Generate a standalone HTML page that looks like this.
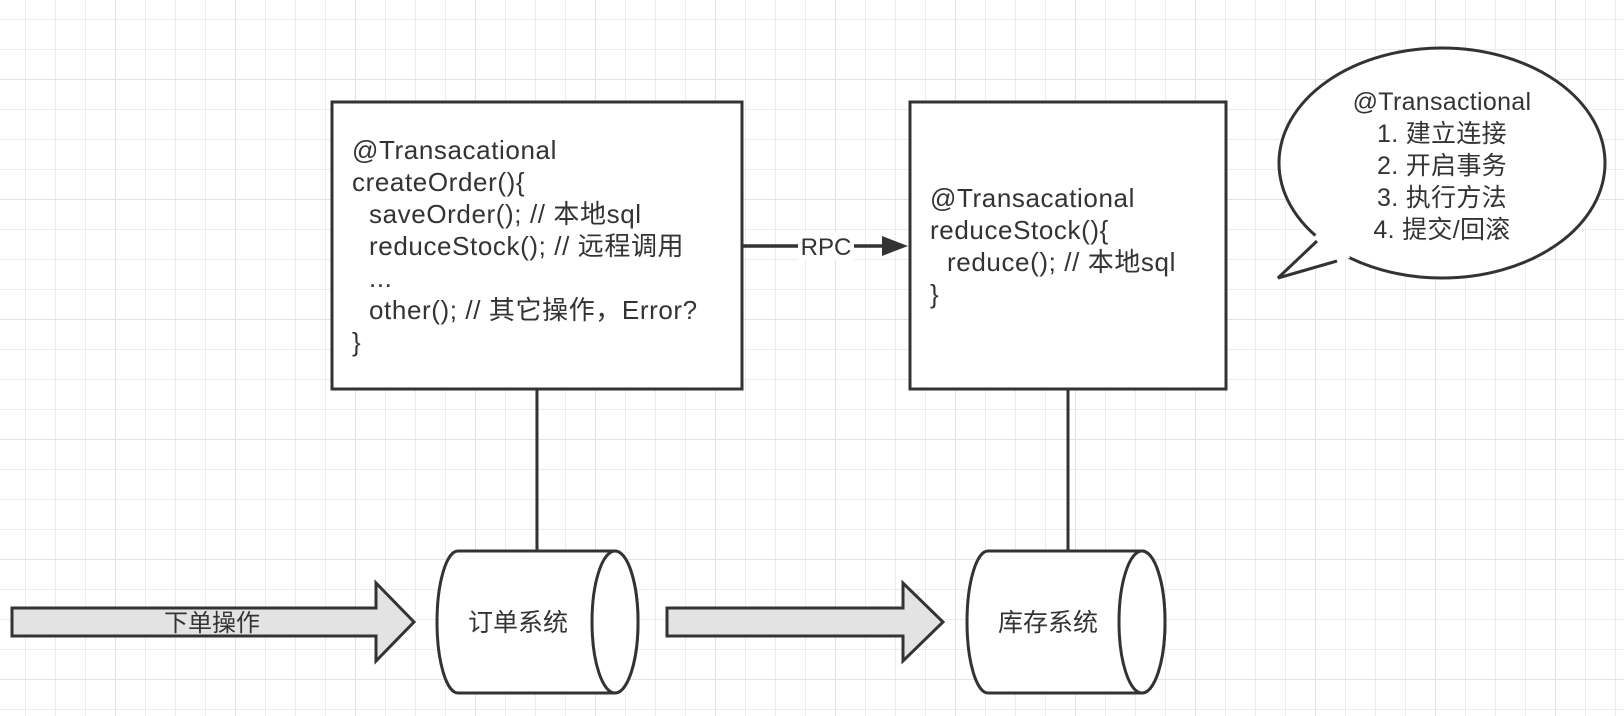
<!DOCTYPE html>
<html><head><meta charset="utf-8"><style>
html,body{margin:0;padding:0;background:#fff;}
svg{display:block;}
text{font-family:"Liberation Sans","Noto Sans CJK SC",sans-serif;fill:#333;}
</style></head><body>
<svg width="1624" height="716" viewBox="0 0 1624 716" xmlns="http://www.w3.org/2000/svg">
<defs>
<pattern id="g" x="25" y="19" width="30" height="30" patternUnits="userSpaceOnUse">
<path d="M0 0V30M0 0H30" stroke="#ececec" stroke-width="2" fill="none"/>
</pattern>
<pattern id="G" x="115" y="79" width="120" height="120" patternUnits="userSpaceOnUse">
<path d="M0 0V120M0 0H120" stroke="#e2e2e2" stroke-width="2" fill="none"/>
</pattern>
</defs>
<rect width="1624" height="716" fill="#fff"/>
<rect width="1624" height="716" fill="url(#g)"/>
<rect width="1624" height="716" fill="url(#G)"/>

<line x1="537" y1="389" x2="537" y2="551" stroke="#333" stroke-width="3"/>
<line x1="1068" y1="389" x2="1068" y2="551" stroke="#333" stroke-width="3"/>

<rect x="332" y="102" width="410" height="287" fill="#fff" stroke="#333" stroke-width="3"/>
<rect x="910" y="102" width="316" height="287" fill="#fff" stroke="#333" stroke-width="3"/>

<g font-size="26" letter-spacing="0.6">
<text x="352" y="159">@Transacational</text>
<text x="352" y="191">createOrder(){</text>
<text x="369" y="223">saveOrder(); // 本地sql</text>
<text x="369" y="255">reduceStock(); // 远程调用</text>
<text x="369" y="287">...</text>
<text x="369" y="319">other(); // 其它操作，Error?</text>
<text x="352" y="351">}</text>
</g>
<g font-size="26" letter-spacing="0.6">
<text x="930" y="207">@Transacational</text>
<text x="930" y="239">reduceStock(){</text>
<text x="947" y="271">reduce(); // 本地sql</text>
<text x="930" y="303">}</text>
</g>

<line x1="742" y1="246" x2="886" y2="246" stroke="#333" stroke-width="3.5"/>
<polygon points="882,236 908,246 882,256" fill="#333"/>
<rect x="798" y="232" width="56" height="28" fill="#fff"/>
<text x="826" y="255" font-size="24" text-anchor="middle">RPC</text>

<ellipse cx="1442" cy="163" rx="163" ry="115" fill="#fff" stroke="#333" stroke-width="3"/>
<polygon points="1322,228 1278,278 1350,258 1345,240" fill="#fff"/>
<polyline points="1317,241 1278,278 1337,261" fill="none" stroke="#333" stroke-width="3"/>
<g font-size="25" text-anchor="middle" letter-spacing="0.3">
<text x="1442" y="110">@Transactional</text>
<text x="1442" y="142">1. 建立连接</text>
<text x="1442" y="174">2. 开启事务</text>
<text x="1442" y="206">3. 执行方法</text>
<text x="1442" y="238">4. 提交/回滚</text>
</g>

<polygon points="12,608 376,608 376,583 414,622 376,661 376,636 12,636" fill="#e3e3e3" stroke="#333" stroke-width="3"/>
<text x="212" y="631" font-size="24" text-anchor="middle">下单操作</text>
<polygon points="667,608 903,608 903,583 943,622 903,661 903,636 667,636" fill="#e3e3e3" stroke="#333" stroke-width="3"/>

<path d="M458 551 H615 A23 71 0 0 1 615 693 H458 A21 71 0 0 1 458 551 Z" fill="#fff" stroke="#333" stroke-width="3"/>
<ellipse cx="615" cy="622" rx="23" ry="71" fill="#fff" stroke="#333" stroke-width="3"/>
<text x="518" y="631" font-size="25" text-anchor="middle">订单系统</text>

<path d="M988 551 H1142 A23 71 0 0 1 1142 693 H988 A21 71 0 0 1 988 551 Z" fill="#fff" stroke="#333" stroke-width="3"/>
<ellipse cx="1142" cy="622" rx="23" ry="71" fill="#fff" stroke="#333" stroke-width="3"/>
<text x="1048" y="631" font-size="25" text-anchor="middle">库存系统</text>
</svg>
</body></html>
